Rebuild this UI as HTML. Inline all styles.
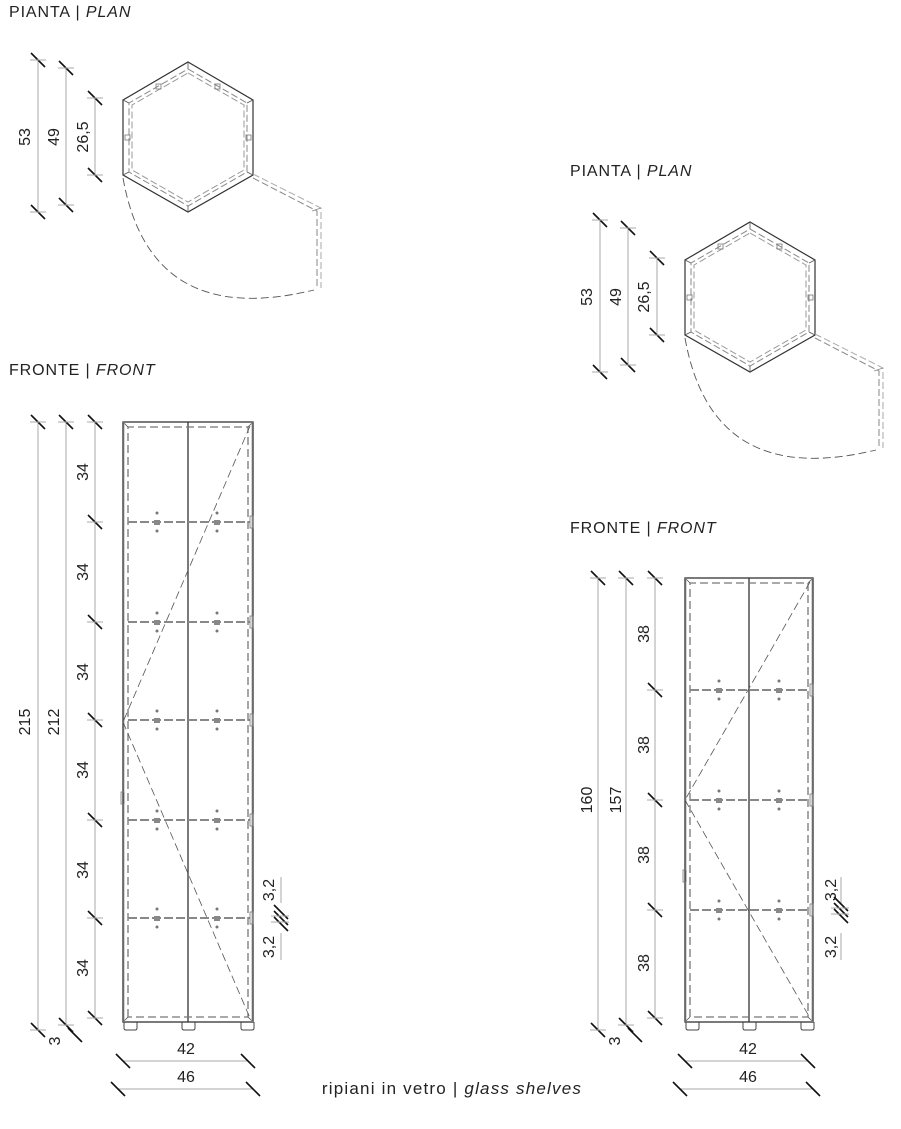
<!DOCTYPE html>
<html><head><meta charset="utf-8"><style>
html,body{margin:0;padding:0;background:#fff;}
svg{display:block}
text{font-family:"Liberation Sans",sans-serif;fill:#222;font-size:16px}
.h{font-size:16px;letter-spacing:0.9px}
.c{font-size:17px;letter-spacing:1.2px}
</style></head><body>
<svg id="s" width="901" height="1129" viewBox="0 0 901 1129" xmlns="http://www.w3.org/2000/svg">
<g id="g" fill="none" stroke-linecap="butt"></g>
<text class="h" x="9" y="17">PIANTA | <tspan font-style="italic">PLAN</tspan></text>
<text class="h" x="9" y="375">FRONTE | <tspan font-style="italic">FRONT</tspan></text>
<text class="h" x="570" y="176">PIANTA | <tspan font-style="italic">PLAN</tspan></text>
<text class="h" x="570" y="533">FRONTE | <tspan font-style="italic">FRONT</tspan></text>
<text class="c" x="452" y="1094" text-anchor="middle">ripiani in vetro | <tspan font-style="italic">glass shelves</tspan></text>
<text transform="translate(30,137) rotate(-90)" text-anchor="middle">53</text>
<text transform="translate(59,137) rotate(-90)" text-anchor="middle">49</text>
<text transform="translate(88,137) rotate(-90)" text-anchor="middle">26,5</text>
<text transform="translate(592,297) rotate(-90)" text-anchor="middle">53</text>
<text transform="translate(621,297) rotate(-90)" text-anchor="middle">49</text>
<text transform="translate(649,297) rotate(-90)" text-anchor="middle">26,5</text>
<text transform="translate(30,722) rotate(-90)" text-anchor="middle">215</text>
<text transform="translate(59,722) rotate(-90)" text-anchor="middle">212</text>
<text transform="translate(88,472) rotate(-90)" text-anchor="middle">34</text>
<text transform="translate(88,572) rotate(-90)" text-anchor="middle">34</text>
<text transform="translate(88,672) rotate(-90)" text-anchor="middle">34</text>
<text transform="translate(88,770) rotate(-90)" text-anchor="middle">34</text>
<text transform="translate(88,870) rotate(-90)" text-anchor="middle">34</text>
<text transform="translate(88,968) rotate(-90)" text-anchor="middle">34</text>
<text transform="translate(60,1041) rotate(-90)" text-anchor="middle">3</text>
<text transform="translate(274,890) rotate(-90)" text-anchor="middle">3,2</text>
<text transform="translate(274,947) rotate(-90)" text-anchor="middle">3,2</text>
<text x="186" y="1054" text-anchor="middle">42</text>
<text x="186" y="1082" text-anchor="middle">46</text>
<text transform="translate(592,800) rotate(-90)" text-anchor="middle">160</text>
<text transform="translate(621,800) rotate(-90)" text-anchor="middle">157</text>
<text transform="translate(649,634) rotate(-90)" text-anchor="middle">38</text>
<text transform="translate(649,745) rotate(-90)" text-anchor="middle">38</text>
<text transform="translate(649,855) rotate(-90)" text-anchor="middle">38</text>
<text transform="translate(649,963) rotate(-90)" text-anchor="middle">38</text>
<text transform="translate(620,1041) rotate(-90)" text-anchor="middle">3</text>
<text transform="translate(836,890) rotate(-90)" text-anchor="middle">3,2</text>
<text transform="translate(836,947) rotate(-90)" text-anchor="middle">3,2</text>
<text x="748" y="1054" text-anchor="middle">42</text>
<text x="748" y="1082" text-anchor="middle">46</text>
</svg>
<script>
var g=document.getElementById('g'),o='';
function L(x1,y1,x2,y2,c,w,d){o+='<line x1="'+x1+'" y1="'+y1+'" x2="'+x2+'" y2="'+y2+'" stroke="'+(c||'#333')+'" stroke-width="'+(w||1)+'"'+(d?' stroke-dasharray="'+d+'"':'')+'/>';}
function P(d,c,w,da){o+='<path d="'+d+'" stroke="'+(c||'#333')+'" stroke-width="'+(w||1)+'"'+(da?' stroke-dasharray="'+da+'"':'')+' fill="none"/>';}
function T(x,y){L(x-7,y-7,x+7,y+7,'#111',1.6);}
function V(x,ys){L(x,ys[0],x,ys[ys.length-1],'#aaa',1);ys.forEach(function(y){T(x,y);L(x-8,y,x+8,y,'#aaa',1)});}
function H(y,x1,x2){L(x1,y,x2,y,'#aaa',1);T(x1,y);T(x2,y);}
function plan(dx,dy){
 var c=[[188,62],[253,100],[253,175],[188,212],[123,175],[123,100]].map(function(p){return [p[0]+dx,p[1]+dy]});
 P('M'+c.map(function(p){return p.join(',')}).join(' L')+' Z','#333',1.2);
 var i=[[188,69],[247,103],[247,172],[188,206],[129,172],[129,103]].map(function(p){return [p[0]+dx,p[1]+dy]});
 P('M'+i.map(function(p){return p.join(',')}).join(' L')+' Z','#888',1,'7 3');
 var i2=[[188,73],[244,105],[244,170],[188,202],[132,170],[132,105]].map(function(p){return [p[0]+dx,p[1]+dy]});
 P('M'+i2.map(function(p){return p.join(',')}).join(' L')+' Z','#999',1,'7 3');
 for(var k=0;k<6;k++)L(c[k][0],c[k][1],i[k][0],i[k][1],'#555',0.8);
 [[158,86],[217,86],[127,137],[248,137]].forEach(function(p){o+='<rect x="'+(p[0]+dx-2)+'" y="'+(p[1]+dy-2)+'" width="5" height="5" stroke="#777" fill="none" stroke-width="0.8"/>';});
 P('M'+(253+dx)+','+(178+dy)+' L'+(317+dx)+','+(211+dy)+' L'+(317+dx)+','+(288+dy),'#888',1,'7 3');
 P('M'+(253+dx)+','+(174+dy)+' L'+(321+dx)+','+(208+dy)+' L'+(321+dx)+','+(288+dy),'#aaa',1,'7 3');
 L(312+dx,211+dy,321+dx,208+dy,'#888',0.8);
 P('M'+(123+dx)+','+(178+dy)+' Q'+(150+dx)+','+(330+dy)+' '+(314+dx)+','+(290+dy),'#555',0.9,'8 4');
 V(38+dx,[60+dy,212+dy]);V(66+dx,[68+dy,205+dy]);V(95+dx,[98+dy,175+dy]);
}
function front(x1,x2,top,bot,shelves,dd){
 var cx=(x1+x2)/2;
 o+='<rect x="'+x1+'" y="'+top+'" width="'+(x2-x1)+'" height="'+(bot-top)+'" stroke="#333" stroke-width="1.3" fill="none"/>';
 L(cx,top,cx,bot,'#333',1.3);
 P('M'+(x1+5)+','+(bot-5)+' L'+(x1+5)+','+(top+5)+' L'+(x2-5)+','+(top+5)+' L'+(x2-5)+','+(bot-5)+' Z','#777',1.3,'8 4');
 L(x1,top,x1+5,top+5,'#555',.8);L(x2,top,x2-5,top+5,'#555',.8);L(x1,bot,x1+5,bot-5,'#555',.8);L(x2,bot,x2-5,bot-5,'#555',.8);
 L(x1+1,top,x1+1,bot,'#999',.8);L(x2-1,top,x2-1,bot,'#999',.8);
 var mid=(top+bot)/2;
 L(x2-3,top+4,x1,mid,'#555',.8,'8 4');L(x1,mid,x2-3,bot-4,'#555',.8,'8 4');
 o+='<rect x="'+(x1-2)+'" y="'+(mid+70)+'" width="3" height="12" stroke="#777" stroke-width=".8" fill="none"/>';
 shelves.forEach(function(y){
  L(x1+5,y,x2-3,y,'#888',2,'9 3');
  [x1+34,x1+94].forEach(function(x){o+='<rect x="'+(x-3)+'" y="'+(y-2)+'" width="6" height="5" fill="#888"/><circle cx="'+x+'" cy="'+(y-9)+'" r="1.5" fill="#777"/><circle cx="'+x+'" cy="'+(y+9)+'" r="1.5" fill="#777"/>';});
  o+='<rect x="'+(x2-3)+'" y="'+(y-6)+'" width="3" height="12" stroke="#777" stroke-width=".8" fill="none"/>';
 });
 [x1,cx-6,x2-12].forEach(function(x,i){var fx=i==0?x+1:x;o+='<path d="M'+fx+','+bot+' v6 q0,2 2,2 h9 q2,0 2,-2 v-6" stroke="#444" stroke-width="1" fill="none"/>';});
 var ys=[top].concat(shelves).concat([bot-4]);
 V(dd,[top,bot+8]);V(dd+28,[top,bot+3]);L(dd+30,bot+6,dd+44,bot+20,'#111',1.6);
 V(dd+57,ys);
 H(1061,x1,x2-5);H(1089,x1-5,x2);
 L(x2+28,877,x2+28,903,'#aaa',1);L(x2+28,933,x2+28,960,'#aaa',1);
 var sy=shelves[shelves.length-1];
 [sy-8,sy-2,sy+4].forEach(function(y){T(x2+28,y+2)});
 L(x2+18,sy-2,x2+36,sy-2,'#aaa',1);L(x2+18,sy+4,x2+36,sy+4,'#aaa',1);
}
plan(0,0);plan(562,160);
front(123,253,422,1022,[522,622,720,820,918],38);
front(685,813,578,1022,[690,800,910],598);
g.innerHTML=o;
</script>
</body></html>
